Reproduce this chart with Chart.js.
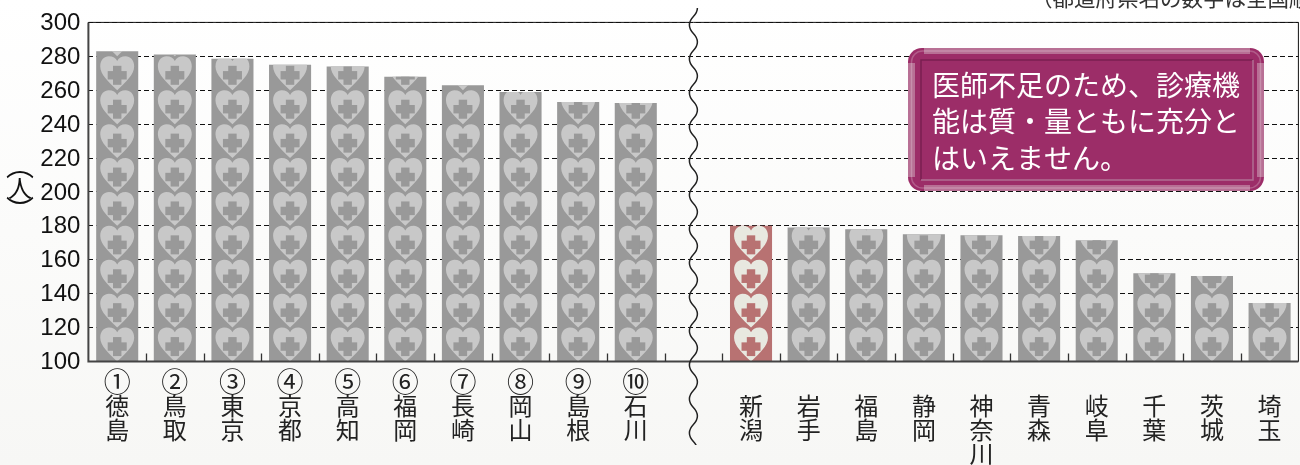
<!DOCTYPE html>
<html>
<head>
<meta charset="utf-8">
<style>
  html, body { margin: 0; padding: 0; width: 1300px; height: 465px; overflow: hidden;
    background: linear-gradient(#ffffff, #f7f7f5); }
  canvas { display: block; }
</style>
<script src="https://cdn.jsdelivr.net/npm/chart.js@4/dist/chart.umd.min.js"></script>
</head>
<body>
<canvas id="doctorChart" width="1300" height="465"></canvas>
<script>
// prefecture names, split per character so they stack vertically (first line is left for the rank)
const categories = [
  ['','徳','島'], ['','鳥','取'], ['','東','京'], ['','京','都'], ['','高','知'],
  ['','福','岡'], ['','長','崎'], ['','岡','山'], ['','島','根'], ['','石','川'],
  [''],
  ['','新','潟'], ['','岩','手'], ['','福','島'], ['','静','岡'], ['','神','奈','川'],
  ['','青','森'], ['','岐','阜'], ['','千','葉'], ['','茨','城'], ['','埼','玉']
];
const ranks = ['①','②','③','④','⑤','⑥','⑦','⑧','⑨','⑩'];
const doctors = [283, 281, 278.5, 275, 274, 268, 263, 259, 253, 252.5, null,
  180, 179, 178, 175, 174.5, 174, 171.5, 152, 150.5, 134.5];
const highlighted = [11]; // Niigata
const yTicks = [100, 120, 140, 160, 180, 200, 220, 240, 260, 280, 300];
const noteLines = ['医師不足のため、診療機', '能は質・量ともに充分と', 'はいえません。'];
const noteText = '（都道府県名の数字は全国順位）';

const JP = '"Noto Sans CJK JP", sans-serif';

// heart + cross stacked from the axis up, one per 20 people
function heart(ctx, cx, tipY, size, fill, crossFill) {
  const w = size / 2, top = tipY - size;
  ctx.fillStyle = fill;
  ctx.beginPath();
  ctx.moveTo(cx, tipY);
  ctx.bezierCurveTo(cx - w * 0.5, top + size * 0.75, cx - w, top + size * 0.55, cx - w, top + size * 0.3);
  ctx.bezierCurveTo(cx - w, top + size * 0.1, cx - w * 0.75, top, cx - w * 0.5, top);
  ctx.bezierCurveTo(cx - w * 0.25, top, cx - w * 0.08, top + size * 0.06, cx, top + size * 0.14);
  ctx.bezierCurveTo(cx + w * 0.08, top + size * 0.06, cx + w * 0.25, top, cx + w * 0.5, top);
  ctx.bezierCurveTo(cx + w * 0.75, top, cx + w, top + size * 0.1, cx + w, top + size * 0.3);
  ctx.bezierCurveTo(cx + w, top + size * 0.55, cx + w * 0.5, top + size * 0.75, cx, tipY);
  ctx.fill();
  const arm = 9.5, thick = 4.2, cy = top + size * 0.56;
  ctx.fillStyle = crossFill;
  ctx.fillRect(cx - arm, cy - thick, arm * 2, thick * 2);
  ctx.fillRect(cx - thick, cy - arm, thick * 2, arm * 2);
}

const heartsPlugin = {
  id: 'hearts',
  afterDatasetsDraw(chart) {
    const ctx = chart.ctx, y = chart.scales.y;
    const base = y.getPixelForValue(100), step = base - y.getPixelForValue(120);
    chart.getDatasetMeta(0).data.forEach((bar, i) => {
      if (doctors[i] === null) return;
      const red = highlighted.includes(i);
      const half = bar.width / 2;
      ctx.save();
      ctx.beginPath();
      ctx.rect(bar.x - half, bar.y, bar.width, bar.base - bar.y);
      ctx.clip();
      for (let tip = base; tip > bar.y; tip -= step) {
        heart(ctx, bar.x, tip, step, red ? '#e8e8e0' : '#c8c8c8', red ? '#b87272' : '#999999');
      }
      ctx.restore();
    });
  }
};

const decorPlugin = {
  id: 'decor',
  afterDraw(chart) {
    const ctx = chart.ctx, a = chart.chartArea, x = chart.scales.x;
    ctx.save();

    // frame
    ctx.strokeStyle = '#111';
    ctx.lineWidth = 1;
    ctx.beginPath();
    ctx.moveTo(a.left, a.top); ctx.lineTo(a.right, a.top); ctx.lineTo(a.right, a.bottom);
    ctx.stroke();
    ctx.strokeStyle = '#444';
    ctx.lineWidth = 2;
    ctx.beginPath();
    ctx.moveTo(a.left, a.top); ctx.lineTo(a.left, a.bottom); ctx.lineTo(a.right, a.bottom);
    ctx.stroke();

    // small ticks between categories, pointing into the plot
    ctx.strokeStyle = '#333';
    ctx.lineWidth = 1.3;
    ctx.beginPath();
    for (let i = 0; i < categories.length - 1; i++) {
      const tx = Math.round((x.getPixelForValue(i) + x.getPixelForValue(i + 1)) / 2) + 0.5;
      ctx.moveTo(tx, a.bottom);
      ctx.lineTo(tx, a.bottom - 8);
    }
    ctx.stroke();

    // axis break squiggle in the blank slot
    const bx = x.getPixelForValue(10);
    ctx.save();
    ctx.beginPath(); ctx.rect(bx - 10, 5, 20, 440); ctx.clip();
    ctx.strokeStyle = '#222';
    ctx.lineWidth = 1.5;
    ctx.beginPath();
    ctx.moveTo(bx + 4, 8);
    for (let yy = 8, side = 1; yy < 450; yy += 17, side = -side) {
      ctx.bezierCurveTo(bx + side * 4, yy + 8.5, bx - side * 4, yy + 8.5, bx - side * 4, yy + 17);
    }
    ctx.stroke();
    ctx.restore();

    // rank numbers above the names
    ctx.fillStyle = '#222';
    ctx.font = '27px ' + JP;
    ctx.textAlign = 'center';
    ctx.textBaseline = 'middle';
    ranks.forEach((r, i) => ctx.fillText(r, x.getPixelForValue(i), 382));

    // note box
    ctx.fillStyle = '#9c2d68';
    ctx.beginPath(); ctx.roundRect(908, 48, 356, 143, 14); ctx.fill();
    ctx.fillStyle = '#b87095';
    ctx.fillRect(924, 48, 326, 6);
    ctx.fillRect(924, 185, 326, 6);
    ctx.fillRect(908, 63, 7, 114);
    ctx.fillRect(1257, 63, 7, 114);
    ctx.strokeStyle = 'rgba(255,255,255,0.22)';
    ctx.lineWidth = 1.5;
    ctx.beginPath(); ctx.roundRect(911.5, 51, 349, 137, 11); ctx.stroke();
    // inner edge: dark top and left, light bottom and right
    ctx.strokeStyle = '#7a1f50';
    ctx.beginPath();
    ctx.moveTo(921, 180); ctx.lineTo(921, 60); ctx.lineTo(1253, 60);
    ctx.stroke();
    ctx.strokeStyle = '#b06f92';
    ctx.beginPath();
    ctx.moveTo(1253, 60); ctx.lineTo(1253, 180); ctx.lineTo(921, 180);
    ctx.stroke();
    ctx.fillStyle = '#ffffff';
    ctx.font = '28px ' + JP;
    ctx.textBaseline = 'middle';
    ctx.textAlign = 'left';
    noteLines.forEach((line, i) => ctx.fillText(line, 932, 85 + i * 36.5));

    // source note, cut off by the top of the image
    ctx.fillStyle = '#333';
    ctx.font = '21.5px ' + JP;
    ctx.fillText(noteText, 1031, -2);

    // y axis unit, written vertically
    ctx.fillStyle = '#111';
    ctx.textAlign = 'center';
    ctx.font = '24px ' + JP;
    ctx.fillText('人', 20, 188);
    ctx.font = '28px ' + JP;
    ctx.fillText('︵', 20, 165);
    ctx.fillText('︶', 20, 210);
    ctx.restore();
  }
};

new Chart(document.getElementById('doctorChart').getContext('2d'), {
  type: 'bar',
  data: {
    labels: categories,
    datasets: [{
      data: doctors,
      backgroundColor: doctors.map((v, i) => highlighted.includes(i) ? '#b87272' : '#999999'),
      barPercentage: 0.73,
      categoryPercentage: 1
    }]
  },
  options: {
    responsive: false,
    animation: false,
    layout: { padding: { top: 21, right: 1.6, left: 0, bottom: 0 } },
    plugins: { legend: { display: false }, tooltip: { enabled: false } },
    scales: {
      x: {
        grid: { display: false },
        border: { display: false },
        ticks: {
          autoSkip: false, maxRotation: 0, minRotation: 0, padding: 0,
          color: '#222',
          font: { family: JP, size: 24, lineHeight: 1 }
        },
        afterFit(scale) { scale.height = 103.5; }
      },
      y: {
        min: 100, max: 300,
        afterBuildTicks(scale) { scale.ticks = yTicks.map(value => ({ value })); },
        grid: { color: '#111', lineWidth: 1, drawTicks: false },
        border: { display: false, dash: [5, 3] },
        ticks: {
          color: '#111', padding: 8, labelOffset: 1,
          font: { family: '"Liberation Sans", Arial, sans-serif', size: 24 }
        },
        afterFit(scale) { scale.width = 88.4; }
      }
    }
  },
  plugins: [heartsPlugin, decorPlugin]
});
</script>
</body>
</html>
